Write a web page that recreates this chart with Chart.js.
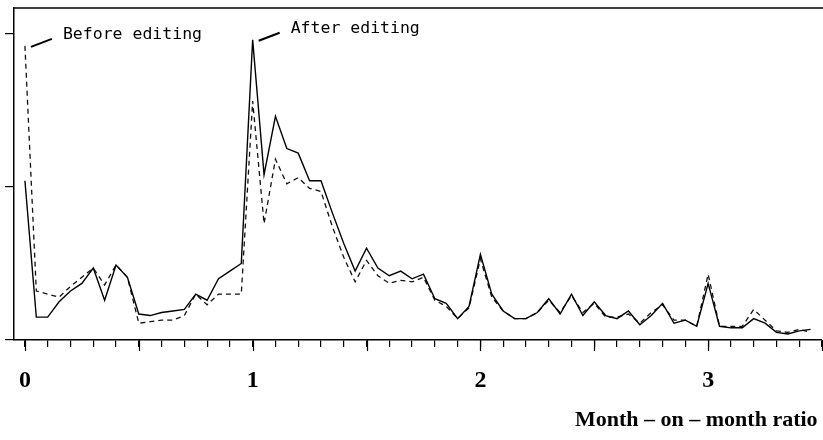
<!DOCTYPE html>
<html>
<head>
<meta charset="utf-8">
<script src="https://cdn.jsdelivr.net/npm/chart.js@4.4.1/dist/chart.umd.min.js"></script>
<style>
    body { margin: 0; background: #fff; }
</style>
</head>
<body>
<canvas id="ratioChart" width="823" height="440"></canvas>
<script>
const ratioSteps = [
    0, 0.05, 0.1, 0.15, 0.2, 0.25, 0.3, 0.35, 0.4, 0.45,
    0.5, 0.55, 0.6, 0.65, 0.7, 0.75, 0.8, 0.85, 0.9, 0.95,
    1, 1.05, 1.1, 1.15, 1.2, 1.25, 1.3, 1.35, 1.4, 1.45,
    1.5, 1.55, 1.6, 1.65, 1.7, 1.75, 1.8, 1.85, 1.9, 1.95,
    2, 2.05, 2.1, 2.15, 2.2, 2.25, 2.3, 2.35, 2.4, 2.45,
    2.5, 2.55, 2.6, 2.65, 2.7, 2.75, 2.8, 2.85, 2.9, 2.95,
    3, 3.05, 3.1, 3.15, 3.2, 3.25, 3.3, 3.35, 3.4, 3.45
];

// solid line
const afterEditing = [
    1.04, 0.15, 0.15, 0.25, 0.32, 0.37, 0.47, 0.26, 0.49, 0.41,
    0.17, 0.16, 0.18, 0.19, 0.20, 0.30, 0.26, 0.40, 0.45, 0.50,
    1.96, 1.08, 1.46, 1.25, 1.22, 1.04, 1.04, 0.83, 0.63, 0.45,
    0.60, 0.47, 0.42, 0.45, 0.40, 0.43, 0.27, 0.24, 0.14, 0.22,
    0.56, 0.30, 0.19, 0.14, 0.14, 0.18, 0.27, 0.17, 0.30, 0.16,
    0.25, 0.16, 0.14, 0.19, 0.10, 0.16, 0.24, 0.11, 0.13, 0.09,
    0.37, 0.09, 0.08, 0.08, 0.14, 0.11, 0.05, 0.04, 0.06, 0.07
];

// dashed line
const beforeEditing = [
    1.92, 0.32, 0.30, 0.28, 0.35, 0.41, 0.47, 0.36, 0.49, 0.41,
    0.11, 0.12, 0.13, 0.13, 0.16, 0.30, 0.23, 0.30, 0.30, 0.30,
    1.56, 0.76, 1.18, 1.02, 1.06, 0.99, 0.97, 0.74, 0.54, 0.38,
    0.52, 0.42, 0.37, 0.39, 0.38, 0.41, 0.26, 0.22, 0.14, 0.21,
    0.53, 0.28, 0.19, 0.14, 0.14, 0.18, 0.26, 0.18, 0.29, 0.18,
    0.24, 0.15, 0.15, 0.17, 0.11, 0.18, 0.23, 0.13, 0.13, 0.09,
    0.43, 0.09, 0.09, 0.09, 0.20, 0.13, 0.06, 0.05, 0.07, 0.05
];

const xTitle = "Month – on – month ratio\u2009";

const notes = [
    { text: "Before editing", series: beforeEditing, index: 0 },
    { text: "After editing", series: afterEditing, index: 20 }
];


function toPoints(values) {
    return ratioSteps.map((x, i) => ({ x: x, y: values[i] }));
}


const framePlugin = {
    id: "frame",
    afterDraw(chart) {
        const ctx = chart.ctx;
        const area = chart.chartArea;
        const xs = chart.scales.x;
        const ys = chart.scales.y;

        ctx.save();
        ctx.strokeStyle = "#000";

        // top border
        ctx.lineWidth = 1.5;
        ctx.beginPath();
        ctx.moveTo(area.left, area.top);
        ctx.lineTo(chart.width, area.top);
        ctx.stroke();

        // longer ticks every 0.5
        ctx.lineWidth = 1.2;
        xs.ticks.forEach(t => {
            if (Math.abs(t.value * 2 - Math.round(t.value * 2)) > 1e-6)
                return;
            const px = Math.round(xs.getPixelForValue(t.value)) + 0.5;
            ctx.beginPath();
            ctx.moveTo(px, area.bottom);
            ctx.lineTo(px, area.bottom + 11);
            ctx.stroke();
        });

        // annotations
        ctx.font = "16.5px 'DejaVu Sans Mono'";
        ctx.fillStyle = "#000";
        ctx.textBaseline = "alphabetic";
        ctx.textAlign = "left";
        ctx.lineWidth = 2;
        notes.forEach(n => {
            const px = xs.getPixelForValue(ratioSteps[n.index]);
            const py = ys.getPixelForValue(n.series[n.index]);
            ctx.beginPath();
            ctx.moveTo(px + 6, py + 1);
            ctx.lineTo(px + 27, py - 7);
            ctx.stroke();
            ctx.fillText(n.text, px + 38, py - 7);
        });

        ctx.restore();
    }
};


new Chart(ratioChart, {
    type: "line",
    data: {
        datasets: [
            {
                label: "After editing",
                data: toPoints(afterEditing),
                borderColor: "#000",
                borderWidth: 1.4,
                pointRadius: 0,
                tension: 0
            },
            {
                label: "Before editing",
                data: toPoints(beforeEditing),
                borderColor: "#111",
                borderWidth: 1.3,
                borderDash: [5, 4],
                pointRadius: 0,
                tension: 0
            }
        ]
    },
    options: {
        responsive: false,
        animation: false,
        devicePixelRatio: 1,
        layout: {
            padding: { left: 5, top: 8, right: 1, bottom: 7 }
        },
        plugins: {
            legend: { display: false },
            tooltip: { enabled: false }
        },
        scales: {
            x: {
                type: "linear",
                min: -0.048,
                max: 3.5,
                border: { color: "#000", width: 1.5 },
                grid: {
                    drawOnChartArea: false,
                    color: "#000",
                    lineWidth: 1.2,
                    tickLength: 7
                },
                ticks: {
                    stepSize: 0.1,
                    autoSkip: false,
                    maxRotation: 0,
                    includeBounds: false,
                    padding: 0,
                    color: "#000",
                    font: { family: "'Liberation Serif', serif", weight: "bold", size: 24, lineHeight: 2.83 },
                    callback: v => Number.isInteger(v) ? v : ""
                },
                title: {
                    display: true,
                    text: xTitle,
                    align: "end",
                    color: "#000",
                    padding: { top: 0, bottom: 7 },
                    font: { family: "'Liberation Serif', serif", weight: "bold", size: 22, lineHeight: 0.5 }
                }
            },
            y: {
                type: "linear",
                min: 0,
                max: 2.167,
                border: { color: "#000", width: 1.5 },
                grid: {
                    drawOnChartArea: false,
                    color: "#000",
                    lineWidth: 1.2,
                    tickLength: 9
                },
                ticks: {
                    display: false,
                    stepSize: 1,
                    includeBounds: false
                }
            }
        }
    },
    plugins: [framePlugin]
});
</script>
</body>
</html>
